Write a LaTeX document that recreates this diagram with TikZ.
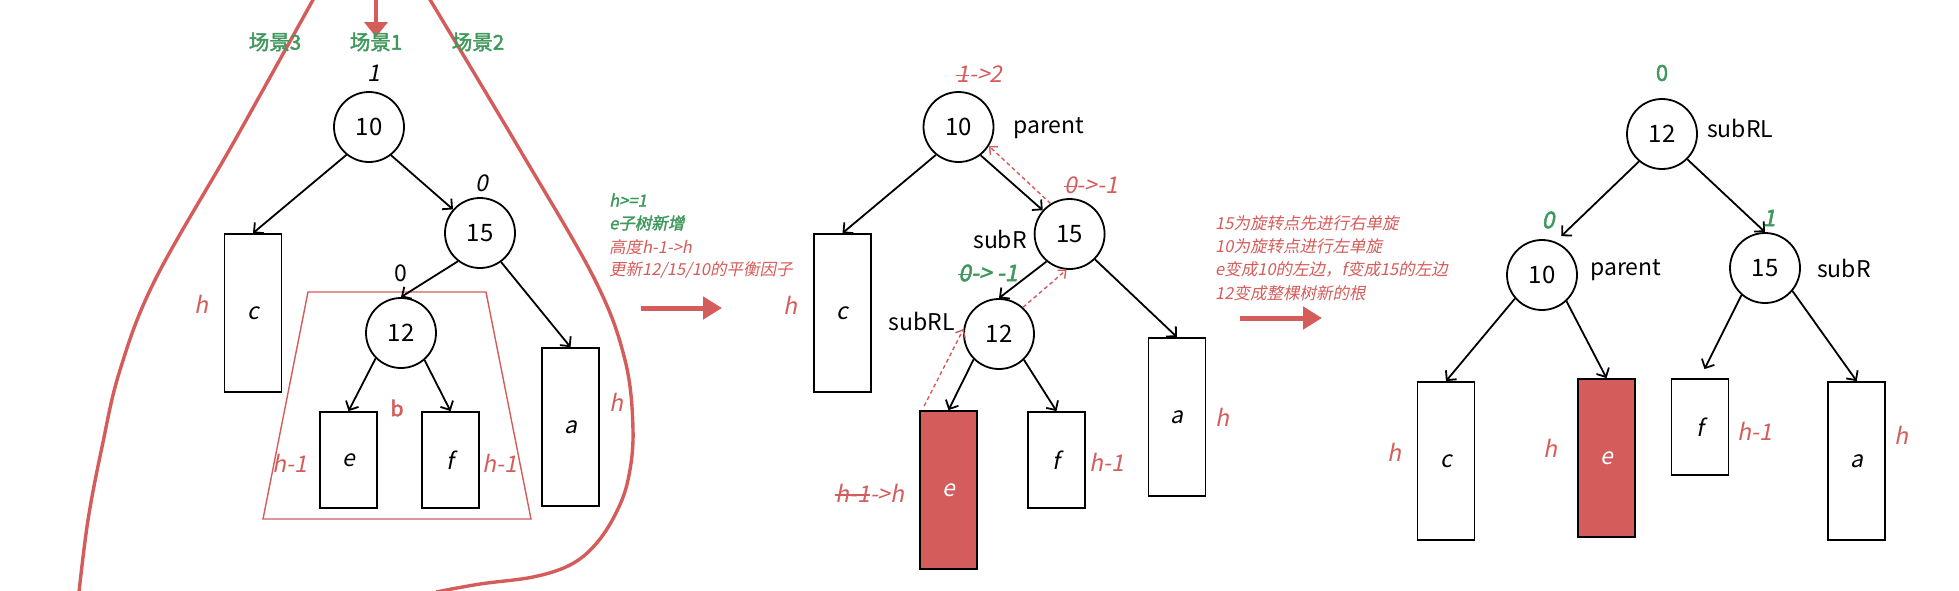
\documentclass[tikz,border=0pt]{standalone}
\usepackage{fontspec}
\setmainfont{Noto Sans CJK SC}[AutoFakeSlant=0.2,AutoFakeBold=2]
\usetikzlibrary{arrows.meta}
\definecolor{hotred}{RGB}{212,92,90}
\definecolor{leafgreen}{RGB}{64,152,92}
\newcommand\struck[1]{\setbox0=\hbox{#1}\rlap{\rule[0.36\ht0]{\wd0}{1.3pt}}\box0}
\tikzset{
  treenode/.style={circle, draw, line width=1.8pt, minimum size=70pt, inner sep=0pt, font=\fontsize{24}{28}\selectfont},
  subtree/.style={rectangle, draw, line width=1.8pt, minimum width=57pt, inner sep=0pt, font=\fontsize{23}{27}\selectfont\itshape},
  tallbox/.style={subtree, minimum height=158pt},
  lowbox/.style={subtree, minimum height=96pt},
  hotbox/.style={tallbox, fill=hotred, text=white},
  link/.style={-{Straight Barb[length=7pt,width=14pt]}, line width=1.8pt},
  backlink/.style={-{Straight Barb[length=6pt,width=11pt]}, hotred, line width=1.4pt, dash pattern=on 4pt off 3pt},
  bigarrow/.style={-{Triangle[length=19pt,width=22pt]}, hotred, line width=5pt},
  redlbl/.style={text=hotred, inner sep=0pt, font=\fontsize{23}{27}\selectfont\itshape},
  bf/.style={inner sep=0pt, font=\fontsize{23}{27}\selectfont\itshape},
  role/.style={inner sep=0pt, font=\fontsize{23}{27}\selectfont},
  scene/.style={text=leafgreen, inner sep=0pt, font=\fontsize{20.5}{24}\selectfont\bfseries},
  greenbf/.style={text=leafgreen, inner sep=0pt, font=\fontsize{23}{27}\selectfont\bfseries\itshape},
  greennote/.style={text=leafgreen, inner sep=0pt, anchor=west, font=\fontsize{16.5}{20}\selectfont\bfseries\itshape},
  rednote/.style={text=hotred, inner sep=0pt, anchor=west, font=\fontsize{16.5}{20}\selectfont\itshape}
}
\begin{document}
\begin{tikzpicture}[x=1pt,y=-1pt]
        \useasboundingbox (0,0) rectangle (1959,590);

        \draw[hotred, line width=3.4pt] plot[smooth, tension=0.6] coordinates {(314,-2) (235,140) (155,280) (120,370) (102,447) (88,520) (79,592)};
        \draw[hotred, line width=3.4pt] plot[smooth, tension=0.6] coordinates {(429,-2) (520,150) (595,280) (625,360) (633,430) (628,480) (615,515) (595,545) (570,565) (533,577) (480,584) (436,592)};
        \draw[hotred, line width=1.4pt] (308,292) -- (486,292) -- (531,519) -- (263,519) -- cycle;

        \coordinate (droptop) at (376,-2);
        \coordinate (dropend) at (376,37);
        \draw[-{Triangle[length=15pt,width=23pt]}, hotred, line width=4pt] (droptop) -- (dropend);

        \node[scene] (s3) at (275,42) {场景3};
        \node[scene] (s1) at (376,42) {场景1};
        \node[scene] (s2) at (478,42) {场景2};

        \node[treenode] (a10) at (369,127) {10};
        \node[treenode] (a15) at (480,233) {15};
        \node[treenode] (a12) at (401,333) {12};
        \node[tallbox] (ac) at (253,313) {c};
        \node[lowbox] (ae) at (348.5,460) {e};
        \node[lowbox] (af) at (450.5,460) {f};
        \node[tallbox] (aa) at (570.5,427) {a};

        \draw[link] (a10.231) -- (ac.north);
        \draw[link] (a10.308) -- (a15);
        \draw[link] (a15.232) -- (a12.north);
        \draw[link] (a15.306) -- (aa.north);
        \draw[link] (a12.225) -- (ae.north);
        \draw[link] (a12.311) -- (af.north);

        \node[bf] (bf10) at (374,73) {1};
        \node[bf] (bf15) at (482,183) {0};
        \node[role] (bf12) at (401,273) {0};
        \node[redlbl] (hc) at (201,304) {h};
        \node[text=hotred, font=\fontsize{21}{25}\selectfont\bfseries] (tb) at (397,408) {b};
        \node[redlbl] (he) at (290,463) {h-1};
        \node[redlbl] (hf) at (500,463) {h-1};
        \node[redlbl] (ha) at (616,402) {h};

        \node[greennote] (note1) at (609,200) {h>=1};
        \node[greennote] (note2) at (609,223) {e子树新增};
        \node[rednote] (note3) at (609,247) {高度h-1->h};
        \node[rednote] (note4) at (609,270) {更新12/15/10的平衡因子};
        \coordinate (go1a) at (641,308);
        \coordinate (go1b) at (722,308);
        \draw[bigarrow] (go1a) -- (go1b);

        \node[treenode] (b10) at (958.5,127) {10};
        \node[treenode] (b15) at (1069.6,234) {15};
        \node[treenode] (b12) at (999,334) {12};
        \node[tallbox] (bc) at (842.5,313) {c};
        \node[hotbox] (be) at (948.5,490) {e};
        \node[lowbox] (bf) at (1056.5,460) {f};
        \node[tallbox] (ba) at (1177,417) {a};

        \draw[link] (b10.231) -- (bc.north);
        \draw[link] (b10.308) -- (b15);
        \draw[link] (b15.230) -- (b12.north);
        \draw[link] (b15.315) -- (ba.north);
        \draw[link] (b12.225) -- (be.north);
        \draw[link] (b12.314) -- (bf.north);
        \draw[backlink] (b15.122) -- (b10.328);
        \draw[backlink] (b12.48) -- (b15.265);
        \draw[backlink] ([xshift=5pt,yshift=4pt]be.north west) -- (b12.172);

        \node[redlbl] (bf10) at (979.5,74) {\struck{1}->2};
        \node[role, anchor=west] (parent1) at (1013,128) {parent};
        \node[redlbl, anchor=west] (bf15) at (1064,185) {\struck{0}->-1};
        \node[role, anchor=east] (subr1) at (1027,239) {subR};
        \node[greenbf, anchor=west] (bf12) at (958,273) {\struck{0} -> -1};
        \node[role, anchor=east] (subrl1) at (955,321) {subRL};
        \node[redlbl] (hbc) at (790.5,305) {h};
        \node[redlbl] (hbe) at (870,493) {\struck{h-1}->h};
        \node[redlbl] (hbf) at (1107,462) {h-1};
        \node[redlbl] (hba) at (1222,417) {h};

        \node[rednote] (note5) at (1215,223) {15为旋转点先进行右单旋};
        \node[rednote] (note6) at (1215,246) {10为旋转点进行左单旋};
        \node[rednote] (note7) at (1215,269) {e变成10的左边，f变成15的左边};
        \node[rednote] (note8) at (1215,293) {12变成整棵树新的根};
        \coordinate (go2a) at (1240,318);
        \coordinate (go2b) at (1322,318);
        \draw[bigarrow] (go2a) -- (go2b);

        \node[treenode] (c12) at (1662,134) {12};
        \node[treenode] (c10) at (1542,275) {10};
        \node[treenode] (c15) at (1765,268) {15};
        \node[tallbox] (cc) at (1446,461) {c};
        \node[hotbox] (ce) at (1606.5,458) {e};
        \node[lowbox] (cf) at (1700,427) {f};
        \node[tallbox] (ca) at (1856.7,461) {a};

        \draw[link, shorten >=8pt] (c12.230) -- (c10.68);
        \draw[link] (c12.315) -- (c15.north);
        \draw[link] (c10.221) -- (cc.north);
        \draw[link] (c10.313) -- (ce.north);
        \draw[link, shorten >=10pt] (c15.229) -- (cf.north);
        \draw[link] (c15.320) -- (ca.north);

        \node[text=leafgreen, font=\fontsize{22}{26}\selectfont\bfseries] (bf12c) at (1662,73) {0};
        \node[role, anchor=west] (subrl2) at (1707,128) {subRL};
        \node[greenbf] (bf10c) at (1548,220) {0};
        \node[role, anchor=west] (parent2) at (1590,270) {parent};
        \node[greenbf] (bf15c) at (1769,218) {1};
        \node[role, anchor=west] (subr2) at (1817,268) {subR};
        \node[redlbl] (hcc) at (1394,452) {h};
        \node[redlbl] (hce) at (1550,448) {h};
        \node[redlbl] (hcf) at (1755,431) {h-1};
        \node[redlbl] (hca) at (1901,435) {h};
\end{tikzpicture}
\end{document}
